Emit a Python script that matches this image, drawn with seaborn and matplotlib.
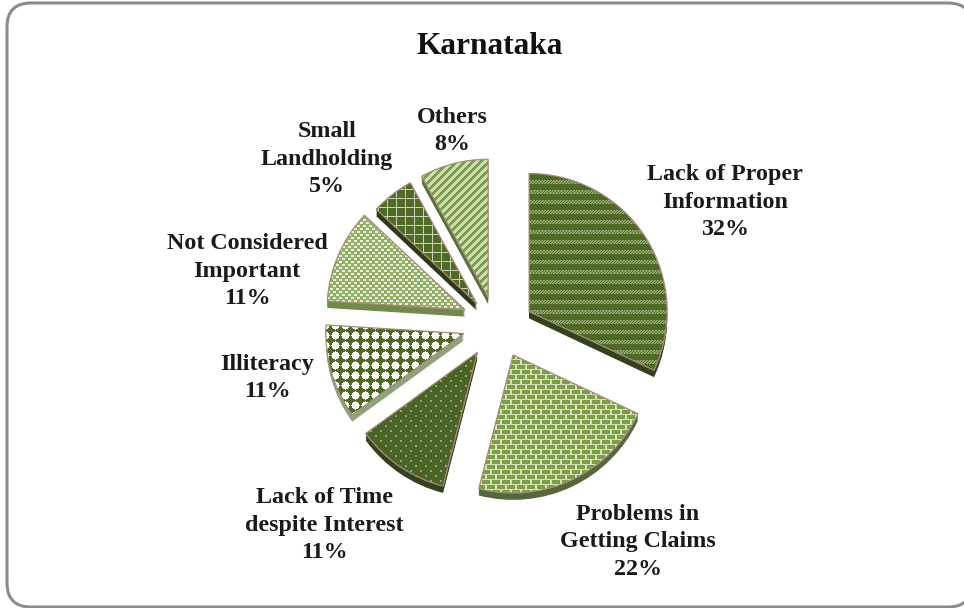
import numpy as np
import matplotlib
matplotlib.use('Agg')
import matplotlib.pyplot as plt
from matplotlib.patches import FancyBboxPatch, Wedge
import seaborn as sns

categories = ['Lack of Proper\nInformation', 'Problems in\nGetting Claims', 'Lack of Time\ndespite Interest',
              'Illiteracy', 'Not Considered\nImportant', 'Small\nLandholding', 'Others']
values = [32, 22, 11, 11, 11, 5, 8]
explode = [0.25, 0.24, 0.24, 0.25, 0.26, 0.25, 0.23]

side_colors = ['#33421d', '#55683a', '#33421d', '#8ea37a', '#6f8a4a', '#2d3a18', '#59703a']
base_colors = ['#4f6a25', '#d3e2bd', '#4a6327', '#4f6a25', '#93b068', '#4f6a25', '#cfe0b8']
top_colors = ['#94a876', '#7d9e45', '#8fa572', '#ffffff', '#e8f0da', '#c9d6b4', '#7e9e4a']

# small corrections of each slice, pixels
nudge = [(2, 4), (1, -1), (-2, -1), (-1, -2), (0, -2), (0, 5), (-2, 2)]

# label centre in pixels
label_pos = [(725, 202), (638, 542), (324, 525), (267, 378), (247, 271), (327, 159), (452, 131)]

W, H = 964, 608
CX, CY, R = 498, 326, 138
DEPTH = 0.05


def to_rgb(c):
    return np.array(matplotlib.colors.to_rgb(c))


def texture(kind, base, top):
    yy, xx = np.mgrid[0:H, 0:W]
    if kind == 'wave':
        mask = (yy % 10 < 4) & ((xx + yy) % 3 != 0)
    elif kind == 'brick':
        row = yy // 5
        mask = (yy % 5 < 4) & ((xx + 5 * (row % 2)) % 10 > 1)
    elif kind == 'dots':
        row = yy // 5
        mask = (yy % 5 < 2) & ((xx + 5 * (row % 2)) % 10 < 2)
    elif kind == 'circles':
        mask = ((xx % 10 - 5) ** 2 + (yy % 10 - 5) ** 2) <= 16
    elif kind == 'mottle':
        row = yy // 3
        mask = (yy % 3 != 2) & ((xx + 3 * (row % 2)) % 6 < 3)
    elif kind == 'plaid':
        mask = (xx % 9 == 0) | (yy % 9 == 0)
    else:
        mask = (xx + yy) % 8 < 4
    img = np.zeros((H, W, 3))
    img[...] = to_rgb(base)
    img[mask] = to_rgb(top)
    return img


def move_slices(slices):
    for w, (dx, dy) in zip(slices, nudge):
        w.set_center((w.center[0] + dx / R, w.center[1] - dy / R))


kinds = ['wave', 'brick', 'dots', 'circles', 'mottle', 'plaid', 'stripes']

sns.set_theme(style='white')
plt.rcParams['font.family'] = ['Liberation Serif', 'DejaVu Serif']

fig = plt.figure(figsize=(W / 100, H / 100), dpi=100, facecolor='white')
ax = fig.add_axes([0, 0, 1, 1])

# outer frame, runs off the right side of the picture
frame = FancyBboxPatch((7, 1), 965, 604, boxstyle='round,pad=0,rounding_size=24',
                       transform=None, fc='white', ec='#8c8c8c', lw=2.2, zorder=-1)
fig.patches.append(frame)
ax.patch.set_alpha(0)

# side of the slices, stacked copies going down
for d in np.linspace(DEPTH, 0.005, 5):
    side, _ = ax.pie(values, explode=explode, startangle=90, counterclock=False, center=(0, -d),
                     colors=side_colors, wedgeprops={'linewidth': 0})
    move_slices(side)

wedges, _ = ax.pie(values, explode=explode, startangle=90, counterclock=False,
                   colors=base_colors, wedgeprops={'linewidth': 0})
move_slices(wedges)

xlim = (-CX / R, (W - CX) / R)
ylim = ((CY - H) / R, CY / R)
for w, k, b, t in zip(wedges, kinds, base_colors, top_colors):
    im = ax.imshow(texture(k, b, t), extent=(*xlim, *ylim), aspect='auto',
                   interpolation='bilinear', zorder=w.get_zorder() + 0.1)
    im.set_clip_path(w)
    # outline over the texture
    ax.add_patch(Wedge(w.center, w.r, w.theta1, w.theta2, fc='none',
                       ec='#a98a7c', lw=0.9, zorder=w.get_zorder() + 0.2))

ax.set_xlim(*xlim)
ax.set_ylim(*ylim)
ax.set_aspect('auto')
ax.axis('off')

fig.text(490 / W, 1 - 46 / H, 'Karnataka', fontsize=22.6, fontweight='bold', ha='center', va='center', color='#111111')
for cat, val, (x, y) in zip(categories, values, label_pos):
    fig.text(x / W, 1 - y / H, f'{cat}\n{val}%', fontsize=17.3, fontweight='bold', ha='center', va='center',
             linespacing=1.38, color='#1a1a1a')

fig.savefig('out.png', dpi=100, facecolor='white')
